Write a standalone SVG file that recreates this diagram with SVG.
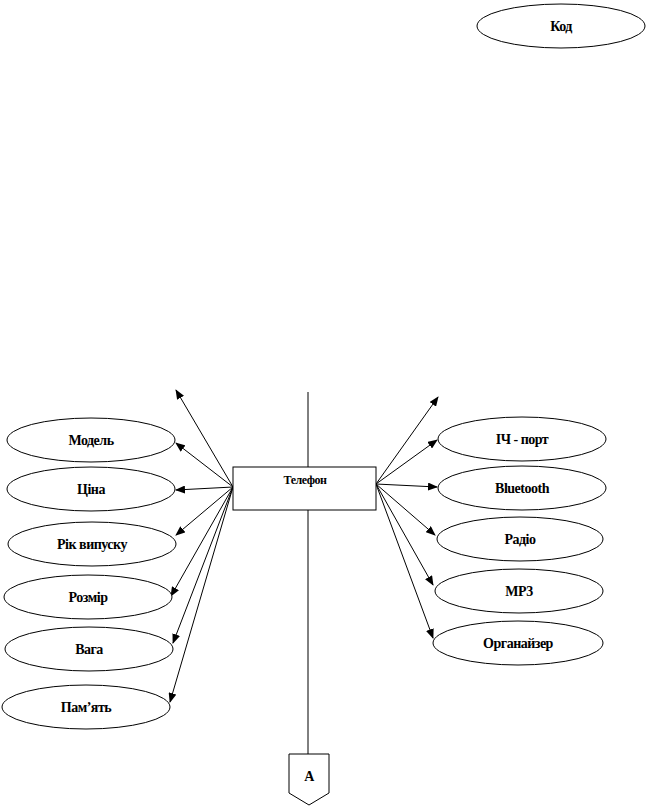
<svg xmlns="http://www.w3.org/2000/svg" width="648" height="810" viewBox="0 0 648 810">
<defs>
<marker id="ah" markerWidth="10" markerHeight="8" refX="9" refY="4" orient="auto" markerUnits="userSpaceOnUse">
<path d="M0,0 L10,4 L0,8 Z" fill="#000"/>
</marker>
<style>
.el{fill:#fff;stroke:#000;stroke-width:1}
.t{font-family:'Liberation Serif','Times New Roman',serif;font-weight:bold;font-size:14px;text-anchor:middle;letter-spacing:-0.5px}
.c{stroke:#000;stroke-width:1;fill:none}
.a{stroke:#000;stroke-width:1;fill:none;marker-end:url(#ah)}
</style>
</defs>
<rect width="648" height="810" fill="#fff"/>
<g id="connectors">
<line class="c" x1="308" y1="392" x2="308" y2="467"/>
<line class="c" x1="308" y1="510" x2="308" y2="754"/>
<line class="a" x1="233" y1="487" x2="176" y2="390"/>
<line class="a" x1="233" y1="487" x2="176" y2="443"/>
<line class="a" x1="233" y1="487" x2="176" y2="490"/>
<line class="a" x1="233" y1="487" x2="176" y2="535"/>
<line class="a" x1="233" y1="487" x2="171" y2="596"/>
<line class="a" x1="233" y1="487" x2="173" y2="643"/>
<line class="a" x1="233" y1="487" x2="170" y2="702"/>
<line class="a" x1="376" y1="484" x2="438" y2="397"/>
<line class="a" x1="376" y1="484" x2="437" y2="440"/>
<line class="a" x1="376" y1="484" x2="437" y2="487"/>
<line class="a" x1="376" y1="484" x2="435" y2="535"/>
<line class="a" x1="376" y1="484" x2="433" y2="585"/>
<line class="a" x1="376" y1="484" x2="433" y2="638"/>
</g>
<g id="kod"><ellipse class="el" cx="561" cy="26" rx="84" ry="22"/><text class="t" x="561" y="31" font-family="Liberation Serif, serif">Код</text></g>
<g id="telefon"><rect x="233" y="467" width="143" height="43" fill="#fff" stroke="#000"/><text class="t" x="305" y="484" style="font-size:12px">Телефон</text></g>
<g id="model"><ellipse class="el" cx="91" cy="440" rx="84" ry="22"/><text class="t" x="91" y="445">Модель</text></g>
<g id="cina"><ellipse class="el" cx="91" cy="489" rx="84" ry="22"/><text class="t" x="91" y="494">Ціна</text></g>
<g id="rik"><ellipse class="el" cx="92" cy="544" rx="84" ry="22"/><text class="t" x="92" y="549">Рік випуску</text></g>
<g id="rozmir"><ellipse class="el" cx="88" cy="597" rx="84" ry="22"/><text class="t" x="88" y="602">Розмір</text></g>
<g id="vaga"><ellipse class="el" cx="89" cy="649" rx="84" ry="22"/><text class="t" x="89" y="654">Вага</text></g>
<g id="pamyat"><ellipse class="el" cx="86" cy="707" rx="84" ry="22"/><text class="t" x="86" y="712">Пам’ять</text></g>
<g id="ich"><ellipse class="el" cx="522" cy="439" rx="84" ry="22"/><text class="t" x="522" y="444">ІЧ - порт</text></g>
<g id="bluetooth"><ellipse class="el" cx="522" cy="488" rx="84" ry="22"/><text class="t" x="522" y="493">Bluetooth</text></g>
<g id="radio"><ellipse class="el" cx="520" cy="539" rx="83" ry="22"/><text class="t" x="520" y="544">Радіо</text></g>
<g id="mp3"><ellipse class="el" cx="519" cy="591" rx="84" ry="22"/><text class="t" x="519" y="596">MP3</text></g>
<g id="organizer"><ellipse class="el" cx="518" cy="643" rx="85" ry="22"/><text class="t" x="518" y="648">Органайзер</text></g>
<g id="A"><path d="M289,754 L329,754 L329,793 L309,805 L289,793 Z" fill="#fff" stroke="#000"/><text class="t" x="309" y="781">А</text></g>
</svg>
